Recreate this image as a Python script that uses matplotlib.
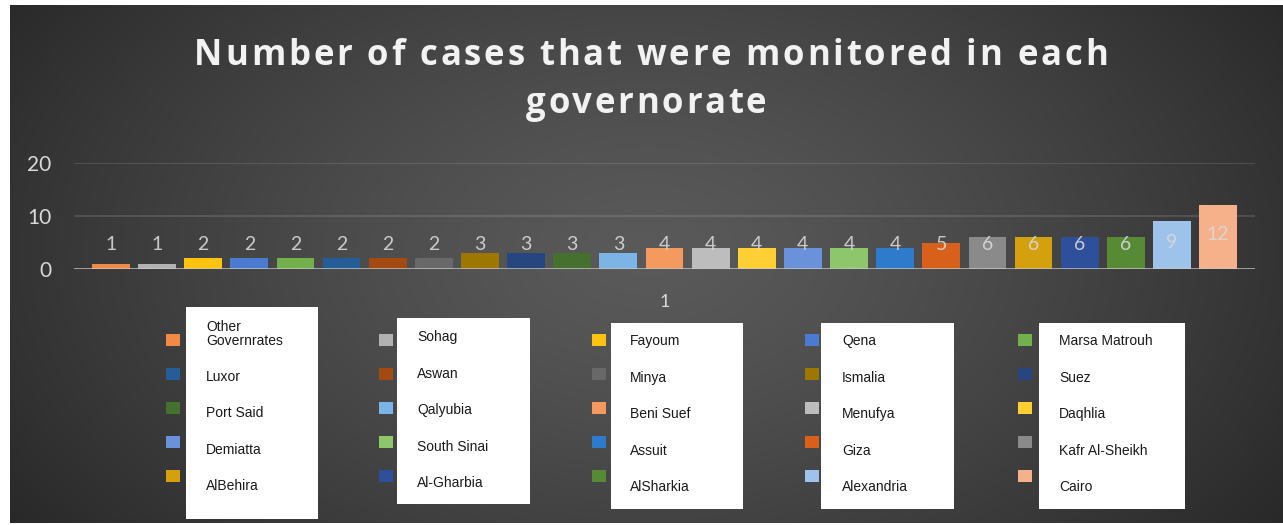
import textwrap

import matplotlib
matplotlib.use("Agg")
import matplotlib.pyplot as plt
import numpy as np
from matplotlib.patches import Rectangle

# data
governorates = ["Other Governrates", "Sohag", "Fayoum", "Qena", "Marsa Matrouh",
                "Luxor", "Aswan", "Minya", "Ismalia", "Suez",
                "Port Said", "Qalyubia", "Beni Suef", "Menufya", "Daqhlia",
                "Demiatta", "South Sinai", "Assuit", "Giza", "Kafr Al-Sheikh",
                "AlBehira", "Al-Gharbia", "AlSharkia", "Alexandria", "Cairo"]
cases = [1, 1, 2, 2, 2, 2, 2, 2, 3, 3, 3, 3, 4, 4, 4, 4, 4, 4, 5, 6, 6, 6, 6, 9, 12]
category_labels = ["1"]
y_ticks = [0, 10, 20]
title_lines = ["Number of cases that were monitored in each", "governorate"]

colors = ["#F08A46", "#B2B2B2", "#FFC20E", "#4A7BD0", "#71B04A",
          "#255E97", "#A24A12", "#686868", "#9E7700", "#27467F",
          "#46702D", "#7DB4E6", "#F49A5E", "#BDBDBD", "#FFCF33",
          "#6A92DA", "#8EC66B", "#2E7BCB", "#D9601A", "#8A8A8A",
          "#D4A00E", "#2E4F9A", "#578A34", "#9DC3EA", "#F6B08A"]

W, H = 1283, 525
fig = plt.figure(figsize=(W / 100, H / 100), dpi=100, facecolor="white")


def fx(px):
    return px / W


def fy(py):
    return 1 - py / H


# dark radial background
bg = fig.add_axes([fx(10), fy(523), fx(W - 10), (523 - 5) / H], zorder=-5)
gx, gy = np.meshgrid(np.linspace(0, 1, 400), np.linspace(0, 1, 200))
r = np.sqrt(((gx - 0.5) / 0.62) ** 2 + ((gy - 0.52) / 0.95) ** 2)
r = np.clip(r, 0, 1) ** 1.3
c0, c1 = np.array([0x5a, 0x5a, 0x5a]) / 255, np.array([0x27, 0x27, 0x27]) / 255
img = c0[None, None, :] * (1 - r[..., None]) + c1[None, None, :] * r[..., None]
bg.imshow(img, aspect="auto", extent=[0, 1, 0, 1], origin="lower")
bg.set_axis_off()

# main chart
ax = fig.add_axes([fx(74), fy(269), fx(1255 - 74), (269 - 163) / H])
ax.patch.set_alpha(0)
n = len(cases)
width = 0.82
x = np.arange(n) - (n - 1) / 2
bars = []
for i in range(n):
    b = ax.bar(x[i], cases[i], width=width, color=colors[i], label=governorates[i], zorder=3)
    bars.append(b)
    ly = max(cases[i] * 0.55, 4.7)
    ax.text(x[i], ly, str(cases[i]), ha="center", va="center", color="#d9d9d9",
            fontsize=14, family="Lato", zorder=4, alpha=0.9)

ax.set_xlim(-12.8, 12.8)
ax.set_ylim(0, 20)
ax.set_yticks(y_ticks)
ax.set_yticklabels([str(t) for t in y_ticks], color="#d9d9d9", fontsize=15, family="Lato")
ax.tick_params(axis="y", length=0, pad=16.5)
ax.set_xticks([0])
ax.set_xticklabels(category_labels, color="#d9d9d9", fontsize=13, family="Lato")
ax.tick_params(axis="x", length=0, pad=18)
for s in ax.spines.values():
    s.set_visible(False)
for t in y_ticks[1:]:
    ax.axhline(t, color="white", alpha=0.12, lw=1.5, zorder=1)
ax.axhline(0, color="#c8c8c8", alpha=0.8, lw=2, zorder=5)

# legend, filled row by row like the original
order = [c + 5 * r_ for c in range(5) for r_ in range(5)]
leg = ax.legend([bars[k] for k in order], ["" for k in order], ncol=5,
                loc="upper left", bbox_to_anchor=(fx(166), fy(334)),
                bbox_transform=fig.transFigure, frameon=False, fontsize=10,
                handlelength=1.0, handleheight=1.0, handletextpad=0,
                columnspacing=14.34, labelspacing=1.44, borderpad=0, borderaxespad=0)

# white boxes pasted over the legend text
boxes = [(186, 307, 318, 519), (397, 318, 530, 504), (611, 323, 743, 509),
         (821, 323, 954, 509), (1039, 323, 1185, 509)]
text_x = [206, 417, 630, 842, 1059]
text_y0 = [340, 337, 341, 341, 341]
for col, (x0, y0, x1, y1) in enumerate(boxes):
    fig.add_artist(Rectangle((fx(x0), fy(y1)), fx(x1 - x0), (y1 - y0) / H,
                             transform=fig.transFigure, facecolor="white",
                             edgecolor="none", zorder=5))
    for row, name in enumerate(governorates[col::5]):
        label = textwrap.fill(name, 14)
        ty = text_y0[col] + 36.6 * row - (6 if "\n" in label else 0)
        fig.text(fx(text_x[col]), fy(ty), label,
                 ha="left", va="center", fontsize=10, family="Liberation Sans",
                 color="#1a1a1a", zorder=6, linespacing=1.05)

# title with extra letter spacing
renderer = fig.canvas.get_renderer()
title_kw = dict(color="#f2f2f2", fontsize=25, fontweight="bold", family="Open Sans",
                va="baseline", ha="left")
tracking = 2.85
for line, (cx, by) in zip(title_lines, [(651, 65), (646, 113)]):
    probe = fig.text(0, 0, line, **title_kw)
    full_w = probe.get_window_extent(renderer).width + tracking * (len(line) - 1)
    probe.remove()
    start = cx - full_w / 2
    for k, ch in enumerate(line):
        if k:
            p = fig.text(0, 0, line[:k], **title_kw)
            off = p.get_window_extent(renderer).width
            p.remove()
        else:
            off = 0
        fig.text(fx(start + off + tracking * k), fy(by), ch, **title_kw)

fig.savefig("out.png", dpi=100, facecolor=fig.get_facecolor())
